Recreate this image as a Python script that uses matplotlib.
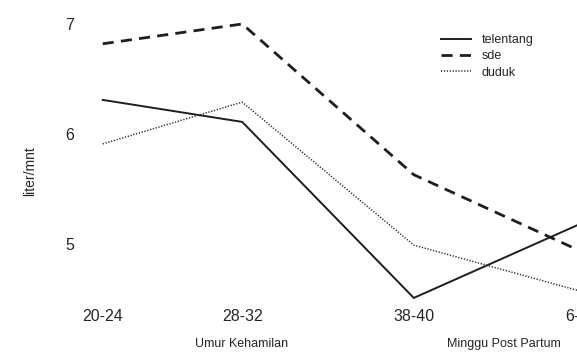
import matplotlib.pyplot as plt

plt.rcParams['font.family'] = ['Liberation Sans', 'DejaVu Sans']

categories = ['20-24', '28-32', '38-40', '6-8']
xpos = [0, 1, 2.23, 3.4]  # uneven spacing as in the original
telentang = [6.31, 6.11, 4.51, 5.17]
sde = [6.82, 7.0, 5.63, 4.95]
duduk = [5.91, 6.29, 4.99, 4.58]
yticks = [5, 6, 7]

W, H = 577, 352
fig = plt.figure(figsize=(W / 100, H / 100), dpi=100)
ax = fig.add_axes([85 / W, 50 / H, 492 / W, 302 / H])

col = '#1e1e1e'
ax.plot(xpos, telentang, color=col, lw=1.4, label='telentang')
ax.plot(xpos, sde, color=col, lw=2.0, dashes=(4, 2.6), label='sde')
ax.plot(xpos, duduk, color='#2a2a2a', lw=1.1, dashes=(0.8, 1.1), label='duduk')

ax.set_xlim(-0.127, 3.338)
ax.set_ylim(4.473, 7.218)
ax.set_xticks(xpos)
ax.set_xticklabels(categories, fontsize=11.5, color='#262626')
ax.set_yticks(yticks)
ax.set_yticklabels([str(v) for v in yticks], fontsize=11.5, color='#262626')
ax.tick_params(length=0)
ax.tick_params(axis='y', pad=8)
ax.tick_params(axis='x', pad=5)
for s in ax.spines.values():
    s.set_visible(False)

fig.text(30 / W, 1 - 171 / H, 'liter/mnt', rotation=90, fontsize=10,
         ha='center', va='center', color='#262626')
fig.text(242 / W, 1 - 344 / H, 'Umur Kehamilan', fontsize=9,
         ha='center', va='center', color='#262626')
fig.text(504 / W, 1 - 344 / H, 'Minggu Post Partum', fontsize=9,
         ha='center', va='center', color='#262626')

ax.legend(loc='upper left', bbox_to_anchor=(441 / W, 1 - 34 / H),
          bbox_transform=fig.transFigure, frameon=False, fontsize=9,
          borderpad=0, borderaxespad=0, handlelength=2.4, handletextpad=0.85,
          labelspacing=0.35, labelcolor='#262626')

fig.savefig('out.png', dpi=100)
